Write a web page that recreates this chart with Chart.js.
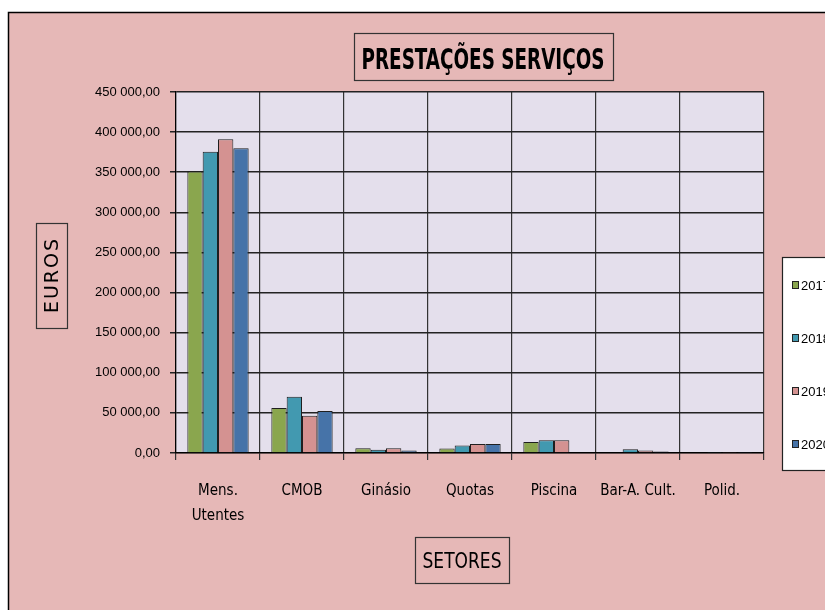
<!DOCTYPE html>
<html>
<head>
<meta charset="utf-8">
<script src="https://cdn.jsdelivr.net/npm/chart.js@4.4.1/dist/chart.umd.min.js"></script>
<style>
  html, body { margin: 0; padding: 0; background: #ffffff; }
  #wrap { width: 825px; height: 610px; position: relative; }
</style>
</head>
<body>
<div id="wrap"><canvas id="chart_1" width="825" height="610"></canvas></div>
<script>
// data
const categories = [['Mens.', 'Utentes'], 'CMOB', 'Ginásio', 'Quotas', 'Piscina', 'Bar-A. Cult.', 'Polid.'];
const years = ['2017', '2018', '2019', '2020'];
const v2017 = [351000, 56000, 6000, 5500, 13700, 0, 0];
const v2018 = [375500, 70000, 4200, 9200, 15800, 4600, 1300];
const v2019 = [391000, 46500, 6000, 11200, 15800, 3000, 1300];
const v2020 = [380000, 52500, 3000, 11200, 0, 1800, 1300];
const yTicks = [0, 50000, 100000, 150000, 200000, 250000, 300000, 350000, 400000, 450000];

const colors = ['#8AA64E', '#4299B0', '#D49291', '#4673A8'];
const narrow = '"Liberation Sans Narrow", "DejaVu Sans Condensed", sans-serif';

// "450 000,00"
const fmt = (v) => {
    let s = Math.round(v).toString().replace(/\B(?=(\d{3})+(?!\d))/g, ' ');
    return s + ',00';
};

// boxes, titles and legend drawn on top of the chart
const decor = {
    id: 'decor',
    beforeDraw(chart) {
        const c = chart.ctx;
        const a = chart.chartArea;
        c.save();
        c.fillStyle = '#ffffff';
        c.fillRect(0, 0, chart.width, chart.height);
        c.fillStyle = '#E6B8B7';
        c.fillRect(8, 12, chart.width - 8, chart.height - 12);
        c.strokeStyle = '#000';
        c.lineWidth = 1.5;
        c.beginPath();
        c.moveTo(8.5, chart.height);
        c.lineTo(8.5, 12.5);
        c.lineTo(chart.width, 12.5);
        c.stroke();
        c.fillStyle = '#E4DFEC';
        c.fillRect(a.left, a.top, a.right - a.left, a.bottom - a.top);
        c.restore();
    },
    afterDraw(chart) {
        const c = chart.ctx;
        c.save();
        c.strokeStyle = '#333';
        c.lineWidth = 1.2;

        // title
        c.strokeRect(354.5, 33.5, 259, 47);
        c.fillStyle = '#000';
        c.font = 'bold 28px ' + narrow;
        c.textAlign = 'center';
        c.textBaseline = 'alphabetic';
        c.fillText('PRESTAÇÕES SERVIÇOS', 483, 69, 243);

        // x title
        c.strokeRect(415.5, 537.5, 94, 46);
        c.font = '22px ' + narrow;
        c.fillText('SETORES', 462, 568, 79);

        // y title
        c.strokeRect(36.5, 223.5, 31, 105);
        c.translate(58, 276);
        c.rotate(-Math.PI / 2);
        c.font = '19px "DejaVu Sans", sans-serif';
        c.letterSpacing = '2px';
        c.fillText('EUROS', 1, 0);
        c.restore();

        // legend
        c.save();
        c.fillStyle = '#ffffff';
        c.fillRect(782, 257, 60, 213);
        c.strokeStyle = '#222';
        c.lineWidth = 1.2;
        c.strokeRect(782.5, 257.5, 60, 213);
        c.font = '13px "Liberation Sans", sans-serif';
        c.textBaseline = 'middle';
        chart.data.datasets.forEach((ds, i) => {
            const y = 285 + i * 53;
            c.fillStyle = ds.backgroundColor;
            c.fillRect(792, y - 4, 7, 8);
            c.strokeStyle = '#222';
            c.lineWidth = 1;
            c.strokeRect(792.5, y - 3.5, 6, 7);
            c.fillStyle = '#000';
            c.fillText(ds.label, 801, y + 1);
        });
        c.restore();
    }
};

const series = [v2017, v2018, v2019, v2020];

const chartBar = {
    type: 'bar',
    data: {
        labels: categories,
        datasets: series.map((d, i) => ({
            label: years[i],
            data: d,
            backgroundColor: colors[i],
            borderColor: '#1f1f1f',
            borderWidth: 1,
            categoryPercentage: 0.73,
            barPercentage: 1.0
        }))
    },
    options: {
        responsive: false,
        animation: false,
        layout: { padding: { left: 0, top: 92, right: 61, bottom: 67 } },
        plugins: {
            legend: { display: false },
            title: { display: false },
            tooltip: { enabled: false }
        },
        scales: {
            x: {
                grid: { color: '#333', lineWidth: 1.2, tickLength: 7, offset: true },
                border: { color: '#000', width: 1.2 },
                ticks: {
                    color: '#000',
                    font: { family: narrow, size: 15, lineHeight: 1.65 },
                    padding: 19,
                    maxRotation: 0,
                    autoSkip: false
                },
                afterFit: (scale) => { scale.height = 90; }
            },
            y: {
                min: 0,
                max: 450000,
                afterBuildTicks: (scale) => { scale.ticks = yTicks.map(v => ({ value: v })); },
                grid: { color: '#222', lineWidth: 1.5, tickLength: 6 },
                border: { color: '#000', width: 1.2 },
                ticks: {
                    color: '#000',
                    font: { family: '"Liberation Sans", sans-serif', size: 13 },
                    padding: 10,
                    callback: (v) => fmt(v)
                },
                afterFit: (scale) => { scale.width = 176; }
            }
        }
    },
    plugins: [decor]
};

const ctx_1 = document.getElementById('chart_1').getContext('2d');
const chart_1 = new Chart(ctx_1, chartBar);
</script>
</body>
</html>
